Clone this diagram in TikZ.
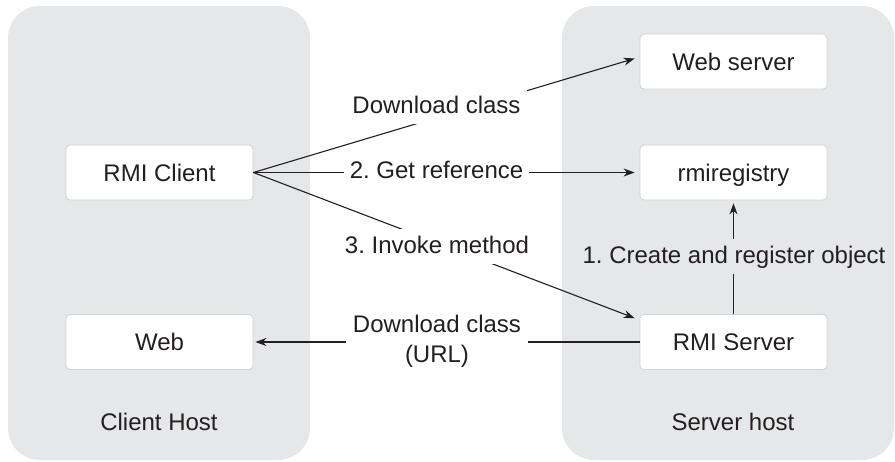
\documentclass[tikz,border=0pt]{standalone}
\usepackage{fontspec}
\setmainfont{Liberation Sans}
\usetikzlibrary{arrows.meta,calc}
\definecolor{panel}{HTML}{E6E7E8}
\definecolor{ink}{HTML}{231F20}
\definecolor{edge}{HTML}{D1D3D4}
\frenchspacing
\begin{document}
\begin{tikzpicture}[x=1pt,y=-1pt,
  font=\fontsize{24}{30}\selectfont,
  panelbox/.style={fill=panel, rounded corners=32pt},
  compbox/.style={draw=edge, line width=0.8pt, fill=white, rounded corners=4pt,
    minimum width=187pt, minimum height=55pt, text height=17pt, text depth=0pt,
    inner sep=0pt, text=ink},
  conn/.style={draw=ink, line width=1.1pt},
  arr/.style={conn, -{Stealth[length=11pt,width=8pt,inset=3.5pt]}},
  lbl/.style={text=ink, inner sep=6pt, text height=18pt, text depth=5pt, anchor=base},
  lbltwo/.style={text=ink, inner sep=7pt, align=center},
  plabel/.style={text=ink, anchor=base, inner sep=0pt}]
\useasboundingbox (0,0) rectangle (895,461);
\fill[panelbox] (8,6) rectangle (310,460);
\fill[panelbox] (562,6) rectangle (894,460);

\node[compbox] (client) at (159.5,172.5) {RMI Client};
\node[compbox] (web) at (159.5,342) {Web};
\node[compbox] (websrv) at (733.5,61.5) {Web server};
\node[compbox] (reg) at (733.5,172.5) {rmiregistry};
\node[compbox] (srv) at (733.5,342) {RMI Server};

\node[plabel] (chost) at (159,430) {Client Host};
\node[plabel] (shost) at (733,430) {Server host};

\draw[arr] (client.east) -- ($(websrv.west)+(-5,-3)$);
\draw[arr] (client.east) -- ($(reg.west)+(-5,0)$);
\draw[arr] (client.east) -- ($(srv.north west)+(-5,4)$);
\draw[arr] (srv.west) -- ($(web.east)+(2,0)$);
\draw[arr] (srv.north) -- ($(reg.south)+(0,3)$);

\node[lbl, fill=white] (l1) at (436.5,113) {Download class};
\node[lbl, fill=white] (l2) at (436.5,178) {2. Get reference};
\node[lbl, fill=white] (l3) at (437,253) {3. Invoke method};
\node[lbltwo, fill=white] (l4) at (437,341) {Download class\\(URL)};
\node[lbl, fill=panel] (l5) at (734,263) {1. Create and register object};
\end{tikzpicture}
\end{document}
